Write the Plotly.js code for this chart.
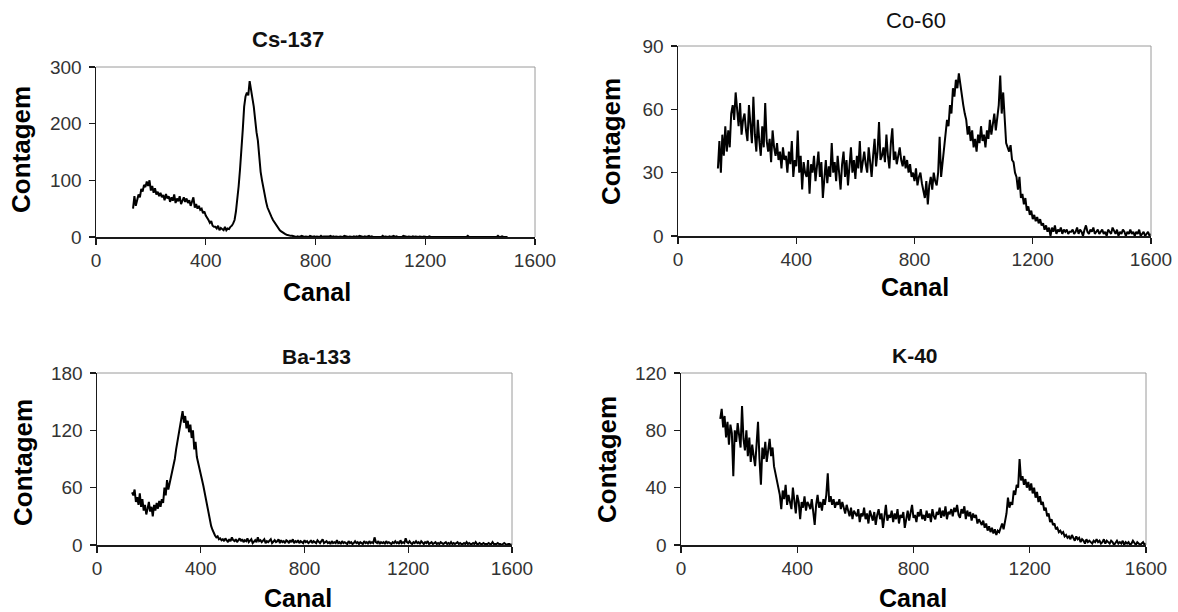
<!DOCTYPE html>
<html>
<head>
<meta charset="utf-8">
<script src="https://cdn.plot.ly/plotly-3.0.1.min.js"></script>
<style>html,body{margin:0;padding:0;background:#fff;}#chart{width:1178px;height:612px;}</style>
</head>
<body>
<div id="chart"></div>
<script>
// ---- Data ----
const CHANNEL_START = 135;   // first channel recorded
const CHANNEL_STEP = 5;      // channels between readings

const panelTitles = ["Cs-137", "Co-60", "Ba-133", "K-40"];
const xTitle = "Canal";
const yTitle = "Contagem";
const xTicks = [0, 400, 800, 1200, 1600];
const csTicks = [0, 100, 200, 300];
const coTicks = [0, 30, 60, 90];
const baTicks = [0, 60, 120, 180];
const kTicks = [0, 40, 80, 120];

const csCounts = [
  50,72,55,68,75,70,85,80,92,88,98,90,100,82,90,78,86,75,80,72,
  78,70,74,65,76,68,72,62,70,64,75,60,68,63,72,58,66,70,62,68,
  60,65,55,62,70,52,58,50,55,48,50,42,45,38,35,30,25,28,20,18,
  18,15,20,12,16,14,12,18,12,15,14,18,20,24,30,45,65,90,120,150,
  190,230,248,255,250,275,255,245,230,205,185,170,140,115,100,85,75,62,52,45,
  40,35,30,26,22,18,14,12,10,8,6,5,4,3,3,2,2,1,1,0,
  1,0,1,2,1,0,1,1,0,2,1,0,1,0,1,1,0,2,0,1,
  1,0,0,1,2,0,1,0,1,0,0,1,1,0,2,1,0,0,1,0,
  0,1,0,1,0,2,1,0,0,1,0,1,2,0,1,0,0,1,0,1,
  1,0,2,0,1,0,0,1,0,1,2,0,1,0,0,1,0,2,1,0,
  0,1,0,0,1,0,1,0,0,1,0,0,1,0,0,0,1,0,0,1,
  0,0,1,0,0,0,1,0,0,1,0,0,0,1,0,0,1,0,0,0,
  0,1,0,0,2,0,0,0,1,0,0,0,0,1,0,0,0,1,0,0,
  0,0,1,0,0,0,2,0,0,1,0,0,1,0
];

const coCounts = [
  32,45,30,48,38,52,40,50,42,58,62,55,68,60,52,63,48,55,58,50,
  45,62,50,44,66,48,40,55,45,38,52,42,63,45,40,46,35,50,42,38,
  44,36,40,32,42,36,38,30,40,34,45,28,36,33,50,30,38,22,35,30,
  28,36,20,34,30,38,26,32,40,28,35,18,30,36,25,33,28,44,30,35,
  26,38,30,22,34,40,28,36,24,33,42,30,36,27,38,32,45,30,36,40,
  34,30,42,36,28,38,46,33,40,54,36,38,42,35,48,38,32,44,51,36,
  40,34,38,42,36,33,38,32,36,30,34,28,30,26,32,24,28,30,25,22,
  18,26,15,24,28,22,30,26,24,30,47,28,35,40,48,55,52,62,58,70,
  66,74,70,77,72,66,62,58,55,48,52,45,50,42,46,40,48,44,52,45,
  48,42,50,46,55,48,52,58,50,56,62,76,58,68,52,44,42,40,43,36,
  35,30,28,22,28,18,20,15,18,12,14,10,12,8,10,7,9,6,8,5,
  6,3,5,2,4,0,4,2,5,1,3,2,4,1,3,2,3,1,2,2,
  3,1,2,4,1,3,2,0,3,5,2,1,3,2,4,1,2,3,1,2,
  3,1,2,0,3,2,1,4,2,1,3,0,2,1,3,2,0,2,1,3,
  1,2,0,2,1,3,0,1,2,0,1,2,0,1
];

const baCounts = [
  55,52,58,45,50,42,54,40,48,36,42,32,38,45,35,40,30,42,36,44,
  38,46,40,48,44,60,52,68,58,64,70,75,82,90,100,108,115,122,132,140,
  128,135,122,130,118,126,112,120,100,108,92,85,80,75,68,62,55,48,40,32,
  25,20,16,12,10,8,9,6,7,5,6,4,7,5,3,6,4,8,5,4,
  6,3,5,7,4,6,3,5,4,7,3,5,6,2,4,5,3,8,4,5,
  3,5,6,2,4,3,5,6,2,4,5,3,4,6,2,5,3,4,2,5,
  4,2,5,3,6,2,4,3,5,2,4,3,2,5,3,4,2,3,5,2,
  4,3,2,5,3,2,4,6,2,3,4,2,3,1,4,2,3,2,5,2,
  3,1,4,2,3,2,1,4,2,3,1,2,4,2,3,1,3,2,1,4,
  2,3,1,4,2,3,2,8,3,2,4,1,3,2,3,1,4,2,3,2,
  1,3,2,4,2,3,1,5,2,3,2,7,3,2,4,2,1,3,2,4,
  2,3,1,4,2,1,3,2,4,1,2,3,1,2,3,1,2,1,3,2,
  1,2,3,1,2,1,3,1,2,1,2,3,1,2,1,1,2,1,3,1,
  2,1,1,2,1,3,1,1,2,1,1,2,1,1,1,2,1,1,3,1,
  1,1,2,1,1,0,1,2,1,0,1,1,0,1
];

const kCounts = [
  88,95,82,90,75,86,70,84,78,48,80,72,85,76,68,97,74,66,80,62,
  75,58,70,62,55,70,86,60,42,68,60,72,58,66,74,62,68,55,50,45,
  40,35,25,38,32,42,28,35,30,25,40,28,22,35,30,18,30,26,34,24,
  30,28,25,32,22,14,28,35,26,30,24,32,28,35,50,30,34,28,32,26,
  30,28,32,25,30,26,22,28,24,20,26,18,24,22,20,25,16,22,20,26,
  18,22,15,24,20,17,23,14,21,25,18,22,12,20,28,17,21,19,24,16,
  22,18,25,15,21,19,23,12,20,24,17,22,28,19,21,16,23,20,25,18,
  21,17,24,19,22,16,25,20,18,23,21,26,19,24,20,27,18,23,22,25,
  20,26,23,28,21,19,25,22,27,18,24,20,23,17,22,19,21,15,18,16,
  14,17,12,15,10,13,9,12,8,11,7,10,9,12,15,11,18,22,33,26,
  30,28,38,35,42,40,60,45,48,42,46,40,44,38,43,36,40,33,37,30,
  34,28,30,24,26,20,22,16,18,14,15,11,12,9,10,8,9,6,7,5,
  6,4,7,5,3,6,4,5,2,4,3,1,4,2,3,2,1,3,2,4,
  2,3,1,2,4,1,3,2,1,3,2,0,2,3,1,2,1,3,0,2,
  1,2,0,1,3,1,0,2,1,0,1,2,0,1
];

// ---- Build chart ----
const W = 1178, H = 612;
const FONT = "'Liberation Sans', Arial, Helvetica, sans-serif";
const px = v => v / W;
const py = v => 1 - v / H;
const channels = n => Array.from({length: n}, (_, i) => CHANNEL_START + i * CHANNEL_STEP);

const series = [csCounts, coCounts, baCounts, kCounts];
const yTicksList = [csTicks, coTicks, baTicks, kTicks];
// plot boxes in page pixels: [left, right, top, bottom]
const boxes = [[96, 535, 67, 237], [678, 1151, 46, 236], [97, 512, 373, 545], [681, 1146, 373, 545]];
const titlePos = [[288, 40], [916, 21], [316, 356], [915, 355]];
const xTitlePos = [[317, 292], [915, 287], [298, 598], [913, 598]];
const yTitlePos = [[21, 150], [611, 142], [23, 463], [607, 460]];
const titleBold = [true, false, true, true];
const titleSize = [22, 22, 21, 21];

const traces = [];
const layout = {
  width: W, height: H,
  margin: {l: 0, r: 0, t: 0, b: 0},
  paper_bgcolor: '#ffffff', plot_bgcolor: '#ffffff',
  showlegend: false,
  shapes: [], annotations: []
};

series.forEach((vals, i) => {
  const k = i === 0 ? '' : String(i + 1);
  traces.push({
    type: 'scatter', mode: 'lines',
    x: channels(vals.length), y: vals,
    xaxis: 'x' + k, yaxis: 'y' + k,
    line: {color: '#000000', width: 2},
    cliponaxis: false, hoverinfo: 'skip'
  });
  const b = boxes[i];
  const yt = yTicksList[i];
  const axCommon = {
    showline: true, linecolor: '#1a1a1a', linewidth: 1.5,
    ticks: 'outside', ticklen: 6, tickcolor: '#1a1a1a', tickwidth: 1.2,
    tickfont: {family: FONT, size: 19, color: '#333333'},
    showgrid: false, zeroline: false, fixedrange: true
  };
  layout['xaxis' + k] = Object.assign({}, axCommon, {
    domain: [px(b[0]), px(b[1])], anchor: 'y' + k,
    range: [0, 1600], tickmode: 'array', tickvals: xTicks, ticktext: xTicks.map(String)
  });
  layout['yaxis' + k] = Object.assign({}, axCommon, {
    domain: [py(b[3]), py(b[2])], anchor: 'x' + k,
    range: [yt[0], yt[yt.length - 1]], tickmode: 'array', tickvals: yt, ticktext: yt.map(String),
    ticklabelstandoff: 3
  });
  const xr = 'x' + k + ' domain', yr = 'y' + k + ' domain';
  layout.shapes.push({type: 'line', xref: xr, yref: yr, x0: 0, x1: 1, y0: 1, y1: 1, line: {color: '#9a9a9a', width: 1}});
  layout.shapes.push({type: 'line', xref: xr, yref: yr, x0: 1, x1: 1, y0: 0, y1: 1, line: {color: '#9a9a9a', width: 1}});

  layout.annotations.push({
    xref: 'paper', yref: 'paper', x: px(titlePos[i][0]), y: py(titlePos[i][1]),
    xanchor: 'center', yanchor: 'middle', showarrow: false,
    text: titleBold[i] ? '<b>' + panelTitles[i] + '</b>' : panelTitles[i],
    font: {family: FONT, size: titleSize[i], color: '#111111'}
  });
  layout.annotations.push({
    xref: 'paper', yref: 'paper', x: px(xTitlePos[i][0]), y: py(xTitlePos[i][1]),
    xanchor: 'center', yanchor: 'middle', showarrow: false,
    text: '<b>' + xTitle + '</b>',
    font: {family: FONT, size: 25, color: '#000000'}
  });
  layout.annotations.push({
    xref: 'paper', yref: 'paper', x: px(yTitlePos[i][0]), y: py(yTitlePos[i][1]),
    xanchor: 'center', yanchor: 'middle', showarrow: false, textangle: -90,
    text: '<b>' + yTitle + '</b>',
    font: {family: FONT, size: 26, color: '#000000'}
  });
});

Plotly.newPlot('chart', traces, layout, {staticPlot: true, displayModeBar: false});
</script>
</body>
</html>
